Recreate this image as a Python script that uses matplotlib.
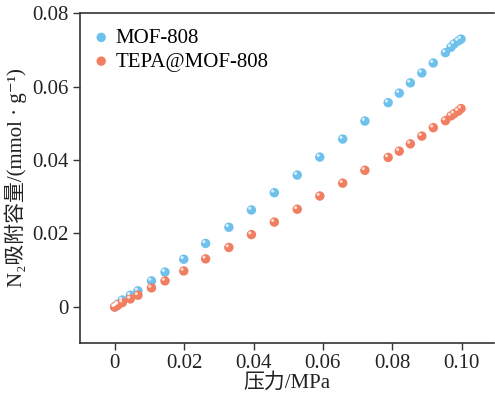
import matplotlib
matplotlib.use("Agg")
import matplotlib.pyplot as plt
from matplotlib.transforms import offset_copy

plt.rcParams['font.family'] = ['Liberation Serif', 'DejaVu Serif', 'Noto Sans CJK SC']

# pressure (MPa)
pressure = [0, 0.0005, 0.001, 0.0022, 0.0045, 0.0067, 0.0106, 0.0145, 0.0199, 0.0262,
            0.0329, 0.0394, 0.046, 0.0526, 0.0591, 0.0657, 0.0721, 0.0788, 0.082, 0.0852,
            0.0885, 0.0918, 0.0953, 0.0969, 0.0978, 0.099, 0.0998]
# N2 uptake (mmol/g)
mof808 = [0, 0.0004, 0.0008, 0.0019, 0.0032, 0.0044, 0.0071, 0.0095, 0.0130, 0.0173,
          0.0217, 0.0264, 0.0311, 0.0359, 0.0408, 0.0457, 0.0506, 0.0556, 0.0582, 0.0610,
          0.0637, 0.0664, 0.0692, 0.0707, 0.0716, 0.0724, 0.0729]
tepa = [0, 0.0003, 0.0006, 0.0012, 0.0022, 0.0032, 0.0052, 0.0071, 0.0098, 0.0131,
        0.0162, 0.0197, 0.0231, 0.0266, 0.0302, 0.0337, 0.0372, 0.0407, 0.0424, 0.0444,
        0.0465, 0.0488, 0.0507, 0.0520, 0.0526, 0.0533, 0.0540]
series_names = ['MOF-808', 'TEPA@MOF-808']
xticks = [0, 0.02, 0.04, 0.06, 0.08, 0.10]
xticklabels = ['0', '0.02', '0.04', '0.06', '0.08', '0.10']
yticks = [0, 0.02, 0.04, 0.06, 0.08]
yticklabels = ['0', '0.02', '0.04', '0.06', '0.08']

colors = ['#6EC1EC', '#F17E60']
fs = 15

fig = plt.figure(figsize=(4.95, 3.98), dpi=100)
ax = fig.add_axes([0.1616, 0.1382, 0.8364, 0.8291])

# glossy dots: base + small white highlight shifted up-left
hl = offset_copy(ax.transData, fig=fig, x=-1.2, y=1.2, units='points')
for ys, c, name in zip([mof808, tepa], colors, series_names):
    ax.scatter(pressure, ys, s=46, color=c, edgecolors='none', label=name, zorder=3)
    ax.scatter(pressure, ys, s=5, color='white', alpha=0.75, edgecolors='none',
               transform=hl, zorder=4)

ax.set_xlim(-0.01, 0.1093)
ax.set_ylim(-0.0098, 0.08)
ax.set_xticks(xticks)
ax.set_xticklabels(xticklabels)
ax.set_yticks(yticks)
ax.set_yticklabels(yticklabels)

ax.spines['right'].set_visible(False)
for s in ['left', 'bottom', 'top']:
    ax.spines[s].set_linewidth(1.2)
    ax.spines[s].set_color('#333333')
ax.tick_params(direction='out', length=5, width=1, colors='#333333',
               labelsize=fs, labelcolor='#222222', pad=3)

ax.set_xlabel('压力/MPa', fontsize=fs, color='#222222', labelpad=0)
ax.set_ylabel('N₂吸附容量/(mmol · g⁻¹)', fontsize=fs, color='#222222', labelpad=4)

ax.legend(loc='upper left', frameon=False, fontsize=fs, handlelength=0.8,
          handletextpad=0.27, borderaxespad=0, labelspacing=0.2,
          bbox_to_anchor=(0.011, 0.979))

fig.savefig('out.png', dpi=100)
